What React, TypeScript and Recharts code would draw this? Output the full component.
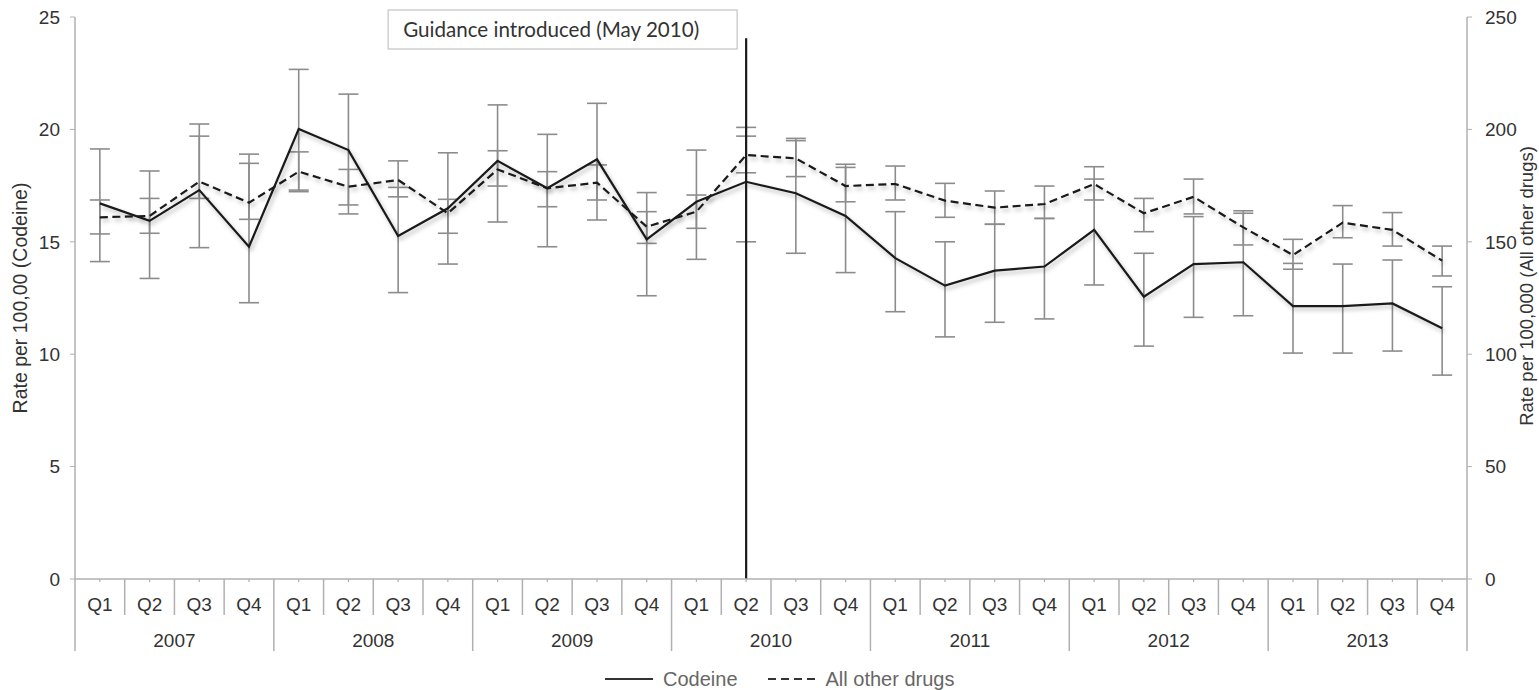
import React from 'react';
import { ComposedChart, Line, XAxis, YAxis, ErrorBar, ReferenceLine } from 'recharts';

const years = ['2007', '2008', '2009', '2010', '2011', '2012', '2013'];
const quarters = ['Q1', 'Q2', 'Q3', 'Q4'];

// Codeine rate per 100,000 (left axis)
const codeine = [16.71, 15.93, 17.3, 14.78, 20.02, 19.08, 15.26, 16.49, 18.6, 17.38, 18.67, 15.11, 16.78, 17.67,
  17.16, 16.15, 14.27, 13.05, 13.72, 13.9, 15.53, 12.56, 14.01, 14.09, 12.14, 12.14, 12.26, 11.15];
const codeineLow = [14.12, 13.37, 14.74, 12.29, 17.3, 16.24, 12.74, 14.01, 15.88, 14.78, 15.97, 12.6, 14.22, 15.0,
  14.49, 13.63, 11.89, 10.77, 11.42, 11.57, 13.08, 10.36, 11.64, 11.71, 10.05, 10.05, 10.14, 9.07];
const codeineHigh = [19.13, 18.15, 19.7, 18.9, 22.67, 21.57, 17.42, 18.96, 21.09, 19.78, 21.16, 17.19, 19.08, 20.09,
  19.6, 18.45, 16.34, 15.0, 15.78, 16.04, 17.79, 14.49, 16.12, 16.38, 14.04, 14.01, 14.19, 13.0];

// All other drugs rate per 100,000 (right axis)
const otherDrugs = [160.9, 161.5, 176.8, 167.4, 181.2, 174.5, 177.5, 162.7, 182.2, 173.8, 176.3, 156.7, 163.4, 188.6,
  187.1, 174.8, 175.7, 168.3, 165.2, 166.8, 175.7, 162.7, 170.0, 156.4, 144.1, 158.5, 155.3, 141.6];
const otherLow = [153.5, 153.8, 169.3, 160.0, 172.3, 166.4, 170.0, 153.8, 174.8, 165.6, 168.6, 149.3, 156.0, 180.7,
  179.0, 167.8, 168.6, 160.9, 157.8, 160.4, 168.6, 154.5, 162.4, 148.6, 137.8, 151.8, 148.1, 134.8];
const otherHigh = [168.6, 169.3, 202.4, 184.9, 190.0, 182.2, 186.0, 168.9, 190.5, 181.2, 184.2, 163.4, 170.8, 197.0,
  195.0, 183.1, 183.7, 176.0, 172.6, 174.8, 183.4, 169.3, 177.9, 162.7, 151.1, 166.1, 163.0, 148.1];

const leftTicks = [0, 5, 10, 15, 20, 25];
const rightTicks = [0, 50, 100, 150, 200, 250];

const leftTitle = 'Rate per 100,00 (Codeine)';
const rightTitle = 'Rate per 100,000 (All other drugs)';
const guidanceText = 'Guidance introduced (May 2010)';
const guidanceCategory = '2010 Q2';
const guidanceTop = 24.05;
const seriesNames = ['Codeine', 'All other drugs'];

const data = years.flatMap((yr, yi) =>
  quarters.map((q, qi) => {
    const i = yi * 4 + qi;
    return {
      key: `${yr} ${q}`,
      year: yr,
      quarter: q,
      codeine: codeine[i],
      codeineErr: [codeine[i] - codeineLow[i], codeineHigh[i] - codeine[i]],
      other: otherDrugs[i],
      otherErr: [otherDrugs[i] - otherLow[i], otherHigh[i] - otherDrugs[i]],
    };
  })
);

const FONT = '"Liberation Sans", Arial, sans-serif';
const TEXT = '#333';
const AXIS = '#b0b0b0';

const QuarterTick = (props: any) => {
  const { x, y, payload, index, width, visibleTicksCount } = props;
  const idx = payload && typeof payload.index === 'number' ? payload.index : index;
  const half = payload && payload.offset ? payload.offset : width / visibleTicksCount / 2;
  const d = data[idx];
  if (!d) return null;
  const yearStart = d.quarter === 'Q1';
  const last = idx === data.length - 1;
  return (
    <g>
      <line x1={x} x2={x} y1={y} y2={y + 3} stroke={AXIS} strokeWidth={1.2} />
      <line x1={x - half} x2={x - half} y1={y} y2={y + (yearStart ? 72 : 36)} stroke={AXIS} strokeWidth={1.5} />
      {last && <line x1={x + half} x2={x + half} y1={y} y2={y + 72} stroke={AXIS} strokeWidth={1.5} />}
      <text x={x} y={y + 32} textAnchor="middle" fontSize={19} fill={TEXT} fontFamily={FONT}>
        {d.quarter}
      </text>
      {d.quarter === 'Q2' && (
        <text x={x + half} y={y + 68} textAnchor="middle" fontSize={19} fill={TEXT} fontFamily={FONT}>
          {d.year}
        </text>
      )}
    </g>
  );
};

const axisTitle = (p: any, value: string, dx: number, dy: number, size: number) => {
  const vb = p && p.viewBox ? p.viewBox : p;
  const cx = vb.x + dx;
  const cy = vb.y + vb.height / 2 + dy;
  return (
    <text
      x={cx}
      y={cy}
      transform={`rotate(-90 ${cx} ${cy})`}
      textAnchor="middle"
      dominantBaseline="central"
      fontSize={size}
      fill={TEXT}
      fontFamily={FONT}
    >
      {value}
    </text>
  );
};

const guidanceBox = (p: any) => {
  const vb = p && p.viewBox ? p.viewBox : p;
  const lx = vb.x;
  return (
    <g>
      <rect x={lx - 358} y={10} width={349} height={39} fill="#fff" stroke="#c4c4c4" strokeWidth={1.2} />
      <text x={lx - 343} y={37} fontSize={20.6} fill="#333" fontFamily='Lato, "Open Sans", sans-serif'>
        {guidanceText}
      </text>
    </g>
  );
};

export default function App() {
  return (
    <div style={{ position: 'absolute', left: 0, top: 0, width: 1539, height: 690, background: '#fff', fontFamily: FONT }}>
      <style>{`.shadowed .recharts-line-curve { filter: drop-shadow(2px 3px 2px rgba(0,0,0,0.28)); }`}</style>
      <ComposedChart width={1539} height={690} data={data} margin={{ top: 17, right: 0, bottom: 39, left: 0 }}>
        <XAxis
          dataKey="key"
          type="category"
          scale="band"
          height={72}
          interval={0}
          tickSize={0}
          tickMargin={0}
          tickLine={false}
          axisLine={{ stroke: AXIS, strokeWidth: 1.5 }}
          tick={<QuarterTick />}
        />
        <YAxis
          yAxisId="left"
          domain={[0, 25]}
          ticks={leftTicks}
          interval={0}
          width={75}
          tickSize={5}
          tickMargin={10}
          axisLine={{ stroke: AXIS, strokeWidth: 1.5 }}
          tickLine={{ stroke: AXIS }}
          tick={{ fill: TEXT, fontSize: 19, fontFamily: FONT }}
          label={(p: any) => axisTitle(p, leftTitle, 20, 0, 19.5)}
        />
        <YAxis
          yAxisId="right"
          orientation="right"
          domain={[0, 250]}
          ticks={rightTicks}
          interval={0}
          width={72}
          tickSize={5}
          tickMargin={13}
          axisLine={{ stroke: AXIS, strokeWidth: 1.5 }}
          tickLine={{ stroke: AXIS }}
          tick={{ fill: TEXT, fontSize: 19, fontFamily: FONT }}
          label={(p: any) => axisTitle(p, rightTitle, 59, -12, 18.5)}
        />
        {/* error bars first, so the series lines sit on top */}
        <Line yAxisId="left" dataKey="codeine" stroke="none" dot={false} activeDot={false} isAnimationActive={false} legendType="none">
          <ErrorBar dataKey="codeineErr" width={10} stroke="#8c8c8c" strokeWidth={1.6} direction="y" />
        </Line>
        <Line yAxisId="right" dataKey="other" stroke="none" dot={false} activeDot={false} isAnimationActive={false} legendType="none">
          <ErrorBar dataKey="otherErr" width={10} stroke="#8c8c8c" strokeWidth={1.6} direction="y" />
        </Line>
        <Line
          className="shadowed"
          yAxisId="left"
          dataKey="codeine"
          name={seriesNames[0]}
          stroke="#1a1a1a"
          strokeWidth={2.2}
          dot={false}
          activeDot={false}
          isAnimationActive={false}
        />
        <Line
          className="shadowed"
          yAxisId="right"
          dataKey="other"
          name={seriesNames[1]}
          stroke="#1a1a1a"
          strokeWidth={2.2}
          strokeDasharray="8 4.5"
          dot={false}
          activeDot={false}
          isAnimationActive={false}
        />
        <ReferenceLine
          yAxisId="left"
          segment={[
            { x: guidanceCategory, y: guidanceTop },
            { x: guidanceCategory, y: 0 },
          ]}
          stroke="#1a1a1a"
          strokeWidth={2.2}
          ifOverflow="visible"
          label={guidanceBox}
        />
      </ComposedChart>
      <div
        style={{
          position: 'absolute',
          left: 605,
          top: 667,
          display: 'flex',
          alignItems: 'center',
          fontSize: 20,
          color: '#666',
          fontFamily: FONT,
          lineHeight: '24px',
        }}
      >
        <svg width={48} height={24}>
          <line x1={0} x2={48} y1={12} y2={12} stroke="#333" strokeWidth={2} />
        </svg>
        <span style={{ marginLeft: 10 }}>{seriesNames[0]}</span>
        <svg width={48} height={24} style={{ marginLeft: 30 }}>
          <line x1={0} x2={48} y1={12} y2={12} stroke="#333" strokeWidth={2} strokeDasharray="8 5" />
        </svg>
        <span style={{ marginLeft: 10 }}>{seriesNames[1]}</span>
      </div>
    </div>
  );
}
